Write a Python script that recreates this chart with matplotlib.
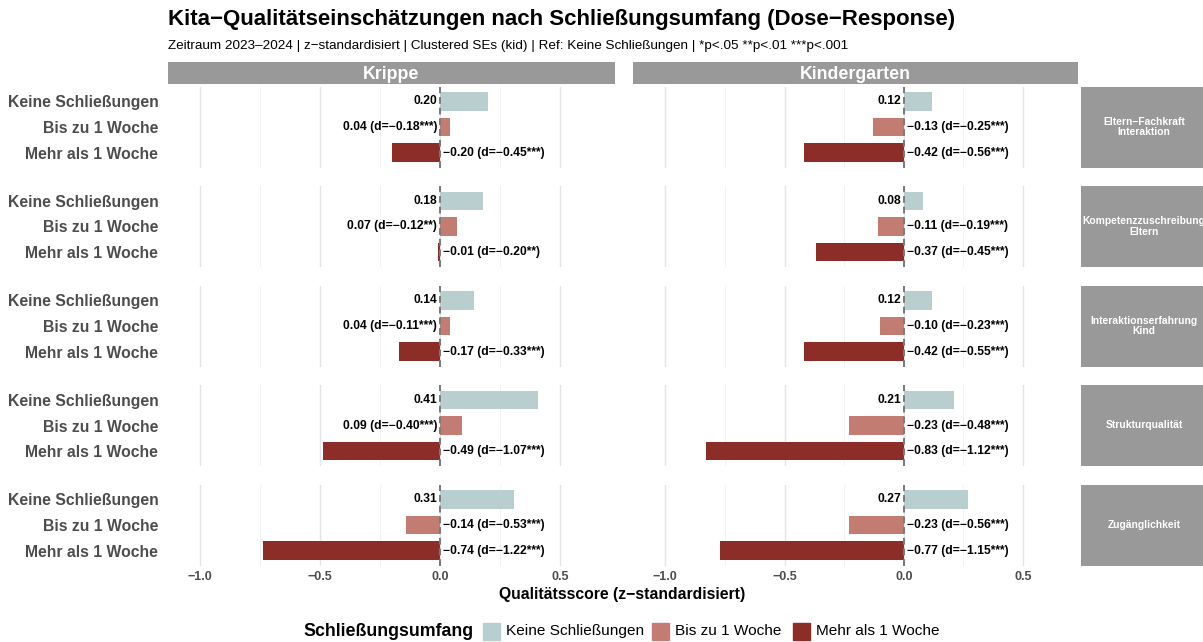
import matplotlib
matplotlib.use("Agg")
import matplotlib.pyplot as plt
from matplotlib.patches import Rectangle
import numpy as np

plt.rcParams['font.family'] = ['Liberation Sans', 'DejaVu Sans']

settings = ["Krippe", "Kindergarten"]
dimensions = ["Eltern−Fachkraft\nInteraktion", "Kompetenzzuschreibung\nEltern",
              "Interaktionserfahrung\nKind", "Strukturqualität", "Zugänglichkeit"]
groups = ["Keine Schließungen", "Bis zu 1 Woche", "Mehr als 1 Woche"]
colors = ["#B8CECF", "#C27C71", "#8C2D28"]

# means per setting x dimension x group
krippe_vals = [[0.20, 0.04, -0.20],
               [0.18, 0.07, -0.01],
               [0.14, 0.04, -0.17],
               [0.41, 0.09, -0.49],
               [0.31, -0.14, -0.74]]
kita_vals = [[0.12, -0.13, -0.42],
             [0.08, -0.11, -0.37],
             [0.12, -0.10, -0.42],
             [0.21, -0.23, -0.83],
             [0.27, -0.23, -0.77]]
krippe_d = [["", "−0.18***", "−0.45***"],
            ["", "−0.12**", "−0.20**"],
            ["", "−0.11***", "−0.33***"],
            ["", "−0.40***", "−1.07***"],
            ["", "−0.53***", "−1.22***"]]
kita_d = [["", "−0.25***", "−0.56***"],
          ["", "−0.19***", "−0.45***"],
          ["", "−0.23***", "−0.55***"],
          ["", "−0.48***", "−1.12***"],
          ["", "−0.56***", "−1.15***"]]
x_ticks = [-1.0, -0.5, 0.0, 0.5]
x_ticklabels = ["−1.0", "−0.5", "0.0", "0.5"]

W, H = 1203, 642
fig = plt.figure(figsize=(W / 100, H / 100), dpi=100)

def px_axes(x0, y0, x1, y1, **kw):
    return fig.add_axes([x0 / W, 1 - y1 / H, (x1 - x0) / W, (y1 - y0) / H], **kw)

col_x = [(168, 615), (633, 1078)]
row_top0, row_step, row_h = 86.5, 99.5, 81
strip_grey = "#999999"
label_grey = "#4D4D4D"

def fmt(v):
    s = f"{v:.2f}"
    return s.replace("-", "−")

all_vals = [krippe_vals, kita_vals]
all_d = [krippe_d, kita_d]

for c, (x0, x1) in enumerate(col_x):
    # top strip
    sax = px_axes(x0, 62, x1, 84)
    sax.add_patch(Rectangle((0, 0), 1, 1, transform=sax.transAxes, color=strip_grey))
    sax.text(0.5, 0.45, settings[c], ha="center", va="center", color="white",
             fontsize=12.8, fontweight="bold", transform=sax.transAxes)
    sax.set_axis_off()
    for r in range(len(dimensions)):
        y0 = row_top0 + r * row_step
        ax = px_axes(x0, y0, x1, y0 + row_h)
        ax.set_xlim(-1.135, 0.73)
        ax.set_ylim(2.58, -0.58)
        for xv in [-1.0, -0.5, 0.0, 0.5]:
            ax.axvline(xv, color="#E5E5E5", lw=1.0, zorder=0)
        for xv in [-0.75, -0.25, 0.25]:
            ax.axvline(xv, color="#F0F0F0", lw=0.6, zorder=0)
        vals = all_vals[c][r]
        ax.barh(range(3), vals, height=0.72, color=colors, zorder=2)
        ax.axvline(0, color="#7A7A7A", lw=1.4, ls=(0, (3.5, 2)), zorder=3)
        for i, v in enumerate(vals):
            d = all_d[c][r][i]
            lab = fmt(v) + (f" (d={d})" if d else "")
            if v >= 0:
                ax.text(-0.012, i, lab, ha="right", va="center", fontsize=8.7,
                        fontweight="bold", color="black", zorder=4)
            else:
                ax.text(0.012, i, lab, ha="left", va="center", fontsize=8.7,
                        fontweight="bold", color="black", zorder=4)
        for s in ax.spines.values():
            s.set_visible(False)
        ax.tick_params(length=0)
        if c == 0:
            ax.set_yticks(range(3))
            ax.set_yticklabels(groups, fontsize=11.3, fontweight="bold", color=label_grey)
            ax.tick_params(axis="y", pad=7)
        else:
            ax.set_yticks([])
        if r == len(dimensions) - 1:
            ax.set_xticks(x_ticks)
            ax.set_xticklabels(x_ticklabels, fontsize=9, fontweight="bold", color=label_grey)
            ax.tick_params(axis="x", pad=4)
        else:
            ax.set_xticks([])
        if c == 1:
            rax = px_axes(1081, y0, 1207, y0 + row_h)
            rax.add_patch(Rectangle((0, 0), 1, 1, transform=rax.transAxes, color=strip_grey))
            rax.text(0.5, 0.5, dimensions[r], ha="center", va="center", color="white",
                     fontsize=7.4, fontweight="bold", transform=rax.transAxes,
                     linespacing=1.05)
            rax.set_axis_off()

fig.text(168 / W, 1 - 20 / H, "Kita−Qualitätseinschätzungen nach Schließungsumfang (Dose−Response)",
         fontsize=16, fontweight="bold", ha="left", va="center")
fig.text(168 / W, 1 - 46 / H,
         "Zeitraum 2023–2024 | z−standardisiert | Clustered SEs (kid) | Ref: Keine Schließungen | *p<.05 **p<.01 ***p<.001",
         fontsize=9.7, ha="left", va="center")
fig.text(622 / W, 1 - 594 / H, "Qualitätsscore (z−standardisiert)", fontsize=11.3,
         fontweight="bold", ha="center", va="center")

# legend
ly = 631
fig.text(303 / W, 1 - ly / H, "Schließungsumfang", fontsize=12.8, fontweight="bold",
         ha="left", va="center")
leg_items = [(483, groups[0]), (652, groups[1]), (793, groups[2])]
for (lx, name), col in zip(leg_items, colors):
    fig.patches.append(Rectangle((lx / W, (H - ly - 8.5) / H), 17 / W, 17 / H,
                                 transform=fig.transFigure, color=col, figure=fig))
    fig.text((lx + 23) / W, 1 - ly / H, name, fontsize=11.1, ha="left", va="center")

fig.savefig("out.png", dpi=100)
